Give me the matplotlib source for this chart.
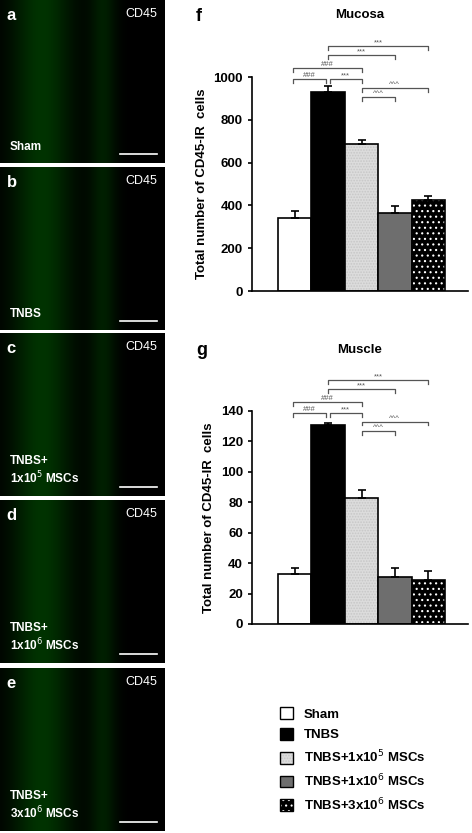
import matplotlib
matplotlib.use("Agg")
import matplotlib.pyplot as plt
import numpy as np
from matplotlib.patches import Patch

groups = ["Sham", "TNBS", "TNBS+1x10$^5$ MSCs", "TNBS+1x10$^6$ MSCs", "TNBS+3x10$^6$ MSCs"]
mucosa = [340, 930, 685, 365, 425]
mucosa_err = [35, 30, 20, 30, 20]
muscle = [33, 131, 83, 31, 29]
muscle_err = [4, 1, 5, 6, 6]
panel_letters = ["a", "b", "c", "d", "e"]
panel_labels = ["Sham", "TNBS", "TNBS+\n1x10$^5$ MSCs", "TNBS+\n1x10$^6$ MSCs", "TNBS+\n3x10$^6$ MSCs"]

W, H = 472, 833
plt.rcParams['font.family'] = ['Liberation Sans', 'DejaVu Sans']
plt.rcParams['hatch.linewidth'] = 0.8
fig = plt.figure(figsize=(W/100, H/100), dpi=100)

def ax_px(x0, y0, x1, y1):
    return fig.add_axes([x0/W, 1-y1/H, (x1-x0)/W, (y1-y0)/H])

# microscopy placeholder panels
tops = [0, 167, 333, 500, 668]
for i, t in enumerate(tops):
    a = ax_px(0, t, 165, min(t+163, 833))
    yy, xx = np.mgrid[0:100, 0:100]
    img = np.zeros((100, 100, 3))
    img[..., 1] = np.exp(-((xx-25)/18.0)**2) * 0.2 + np.exp(-((xx-62)/8.0)**2) * 0.12
    a.imshow(img, aspect='auto', extent=[0, 1, 0, 1])
    a.set_xlim(0, 1); a.set_ylim(0, 1); a.axis('off')
    a.text(0.04, 0.95, panel_letters[i], color='white', fontsize=12, fontweight='bold', va='top')
    a.text(0.95, 0.95, "CD45", color='white', fontsize=9, ha='right', va='top')
    a.text(0.06, 0.06, panel_labels[i], color='white', fontsize=8.5, fontweight='bold', va='bottom')
    a.plot([0.73, 0.95], [0.055, 0.055], color='white', lw=1.2)

colors = ['white', 'black', '#dcdcdc', '#6e6e6e', 'black']
hatches = [None, None, '......', None, '...']
hcols = [None, None, (0.78, 0.78, 0.78, 1), None, (1, 1, 1, 1)]

def bar_panel(y0, y1, vals, errs, ymax, step, title, letter):
    ax = ax_px(252, y0, 468, y1)
    x = np.arange(5)
    bars = ax.bar(x, vals, width=1.0, color=colors, edgecolor='black', linewidth=1.2,
                  yerr=[[0]*5, errs], error_kw=dict(ecolor='black', capsize=3, elinewidth=1.2, capthick=1.2))
    for b, h, hc in zip(bars, hatches, hcols):
        if h:
            b.set_hatch(h)
            b._hatch_color = hc
    ax.set_xlim(-1.28, 5.19)
    ax.set_ylim(0, ymax)
    ax.set_yticks(np.arange(0, ymax+1, step))
    ax.set_xticks([])
    for s in ['top', 'right']:
        ax.spines[s].set_visible(False)
    ax.spines['left'].set_linewidth(1.2); ax.spines['bottom'].set_linewidth(1.2)
    ax.tick_params(axis='y', labelsize=9.5, width=1.2, length=3)
    for l in ax.get_yticklabels():
        l.set_fontweight('bold')
    ax.set_ylabel("Total number of CD45-IR  cells", fontsize=9.5, fontweight='bold')
    ax.set_title(title, fontsize=9.5, fontweight='bold', y=1.235)
    ax.text(-2.95, ymax*1.285, letter, fontsize=13, fontweight='bold', ha='left', va='center')
    s = ymax/1000
    brk = [(-0.05, 0.95, 990, "###"), (-0.05, 2.0, 1042, "###"), (1.05, 2.0, 990, "***"),
           (1.0, 3.0, 1103, "***"), (1.0, 4.0, 1145, "***"), (2.0, 3.0, 907, "^^^"), (2.0, 4.0, 950, "^^^")]
    for (xa, xb, yb, lab) in brk:
        yb = yb*s
        h = ymax*0.012
        ax.plot([xa, xa, xb, xb], [yb-h*1.5, yb, yb, yb-h*1.5], color='#555', lw=0.9, clip_on=False)
        ax.text((xa+xb)/2, yb, lab, ha='center', va='bottom', fontsize=5.5, color='#555', clip_on=False)
    return ax

bar_panel(77, 291, mucosa, mucosa_err, 1000, 200, "Mucosa", "f")
bar_panel(411, 624, muscle, muscle_err, 140, 20, "Muscle", "g")

handles = [Patch(facecolor=colors[i], edgecolor='black', hatch=hatches[i], label=groups[i]) for i in range(5)]
lax = ax_px(268, 700, 472, 820); lax.axis('off')
leg = lax.legend(handles=handles, loc='center left', frameon=False,
                 handlelength=1.0, handleheight=1.0, labelspacing=0.55, prop={'weight': 'bold', 'size': 9.5})
for p, hc in zip(leg.get_patches(), hcols):
    if hc:
        p._hatch_color = hc
fig.savefig("out.png", dpi=100)
